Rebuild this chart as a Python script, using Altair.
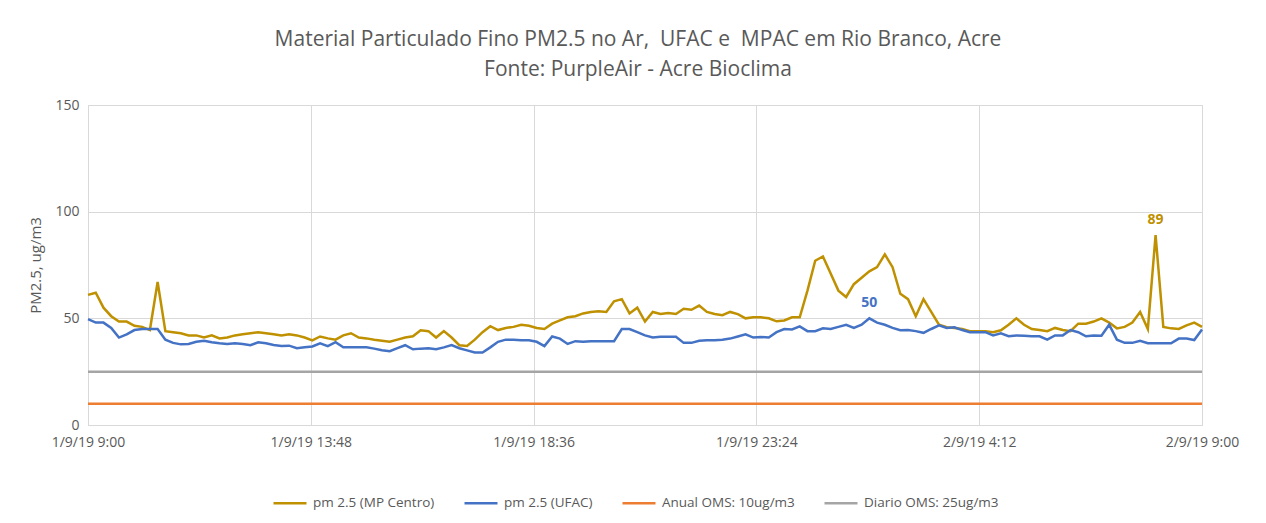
import altair as alt
import pandas as pd

# ---- data (10-minute readings from 1/9/19 9:00 to 2/9/19 9:00) ----
step_minutes = 10
mp_centro = [
    61, 62, 55, 51, 48.5, 48.5, 46.5, 46, 44.5, 67,
    44, 43.5, 43, 42, 42, 41, 42, 40.6, 41, 42,
    42.5, 43, 43.5, 43, 42.5, 42, 42.5, 42, 41, 39.7,
    41.5, 40.6, 40, 42, 43, 41, 40.6, 40, 39.5, 39,
    40, 41, 41.6, 44.4, 44, 41, 44, 41, 37.4, 37,
    40, 43.5, 46.3, 44.5, 45.5, 46, 47, 46.5, 45.5, 45,
    47.5, 49, 50.5, 51, 52.3, 53, 53.3, 53, 58, 59,
    52.3, 55, 48.5, 53, 52, 52.5, 52, 54.5, 54, 56,
    53, 52, 51.5, 53, 52, 50, 50.5, 50.5, 50, 48.6,
    49, 50.5, 50.5, 63, 77, 79, 71, 63, 60, 66,
    69, 72, 74, 80, 74, 61.5, 59, 51, 59, 53,
    47, 45.8, 45.5, 45, 44, 44, 44, 43.5, 44.4, 47,
    50, 47, 45, 44.5, 44, 45.5, 44.5, 44, 47.5, 47.5,
    48.5, 50, 48, 45.3, 46, 48, 53, 45, 89, 46,
    45.3, 45, 46.7, 48, 46,
]
ufac = [
    49.6, 48, 48, 45.5, 41, 42.5, 44.5, 45, 45, 45,
    40, 38.5, 37.8, 38, 39, 39.5, 38.8, 38.3, 38, 38.3,
    38, 37.4, 38.8, 38.3, 37.5, 37, 37.2, 36, 36.4, 36.8,
    38.3, 37, 38.8, 36.4, 36.4, 36.4, 36.4, 35.8, 35, 34.6,
    36, 37.4, 35.5, 35.8, 36, 35.5, 36.4, 37.5, 36, 35,
    34, 34, 36.4, 39, 40, 40, 39.7, 39.7, 39, 37,
    41.5, 40.5, 38, 39.3, 39, 39.3, 39.3, 39.3, 39.3, 45,
    45, 43.5, 42, 41, 41.4, 41.4, 41.4, 38.5, 38.5, 39.5,
    39.7, 39.7, 40, 40.5, 41.5, 42.5, 41, 41.3, 41, 43.5,
    45, 44.8, 46.2, 44, 44, 45.3, 45, 46, 47, 45.5,
    47, 50, 48, 47, 45.5, 44.4, 44.5, 44, 43.2, 45,
    46.7, 45.5, 45.8, 44.5, 43.5, 43.5, 43.5, 42, 43, 41.6,
    42, 41.8, 41.6, 41.6, 40, 42, 42, 44.5, 43.5, 41.6,
    42, 41.8, 47, 40, 38.5, 38.5, 39.5, 38.3, 38.3, 38.3,
    38.3, 40.5, 40.5, 39.8, 44.8,
]
anual_oms = 10
diario_oms = 25

series_names = ["pm 2.5 (MP Centro)", "pm 2.5 (UFAC)", "Anual OMS: 10ug/m3", "Diario OMS: 25ug/m3"]
series_colors = ["#BF9000", "#4472C4", "#ED7D31", "#A5A5A5"]

tick_hours = [0, 4.8, 9.6, 14.4, 19.2, 24]
tick_labels = ["1/9/19 9:00", "1/9/19 13:48", "1/9/19 18:36", "1/9/19 23:24", "2/9/19 4:12", "2/9/19 9:00"]

NBSP = "\u00a0"
title_lines = [f"Material Particulado Fino PM2.5 no Ar,{NBSP} UFAC e{NBSP} MPAC em Rio Branco, Acre",
               "Fonte: PurpleAir - Acre Bioclima"]

# ---- build table ----
n = len(mp_centro)
hours = [i * step_minutes / 60 for i in range(n)]
rows = []
for k, vals in enumerate([mp_centro, ufac, [anual_oms] * n, [diario_oms] * n]):
    for i, v in enumerate(vals):
        rows.append({"h": hours[i], "v": v, "s": series_names[k], "o": k, "lab": ""})
df = pd.DataFrame(rows)

# data labels at the maximum of each measured series
for k in (0, 1):
    sub = df[df["o"] == k]
    idx = sub["v"].idxmax()
    df.loc[idx, "lab"] = f"{df.loc[idx, 'v']:.0f}"

FONT = "Open Sans"
GREY_TXT = "#595959"

label_expr = "[" + ",".join(f"'{t}'" for t in tick_labels) + "][round(datum.value/4.8)]"

x = alt.X("h:Q",
          scale=alt.Scale(domain=[0, 24], nice=False, zero=False),
          axis=alt.Axis(values=tick_hours, labelExpr=label_expr, title=None,
                        grid=True, gridColor="#D9D9D9", ticks=False,
                        domainColor="#D9D9D9", labelColor=GREY_TXT, labelFontSize=14,
                        labelFont=FONT, labelPadding=10, labelFlush=False))
y = alt.Y("v:Q",
          scale=alt.Scale(domain=[0, 150], nice=False),
          axis=alt.Axis(values=[0, 50, 100, 150], title="PM2.5, ug/m3",
                        grid=True, gridColor="#D9D9D9", ticks=False, domain=False,
                        labelColor=GREY_TXT, labelFontSize=14, labelFont=FONT, labelPadding=9,
                        titleColor=GREY_TXT, titleFontSize=15, titleFont=FONT,
                        titleFontWeight="normal", titlePadding=11))
color = alt.Color("s:N",
                  scale=alt.Scale(domain=series_names, range=series_colors),
                  sort=series_names,
                  legend=alt.Legend(title=None, orient="none", legendX=184, legendY=380,
                                    direction="horizontal",
                                    symbolType="stroke", symbolStrokeWidth=2.5, symbolSize=1089,
                                    labelFont=FONT, labelFontSize=13.5, labelColor=GREY_TXT,
                                    columnPadding=24, labelOffset=5))

lines = alt.Chart(df).mark_line(strokeWidth=2.5, interpolate="linear").encode(
    x=x, y=y, color=color, order="h:Q", detail="o:N")

labels = alt.Chart(df).transform_filter("datum.lab != ''").mark_text(
    dy=-15, fontSize=14, fontWeight="bold", font=FONT).encode(
    x="h:Q", y="v:Q", text="lab:N",
    color=alt.Color("s:N", scale=alt.Scale(domain=series_names, range=series_colors), legend=None))

chart = alt.layer(lines, labels).properties(
    width=1114, height=320,
    title=alt.TitleParams(text=title_lines, anchor="middle", frame="group",
                          fontSize=21, font=FONT, fontWeight="normal", color=GREY_TXT,
                          lineHeight=30, offset=18, dx=-7),
    autosize=alt.AutoSizeParams(type="none"),
    padding={"left": 80, "top": 97, "right": 56, "bottom": 95},
).configure_view(stroke=None).configure(background="white")

chart.save("out.html", embed_options={"renderer": "svg", "actions": False})
